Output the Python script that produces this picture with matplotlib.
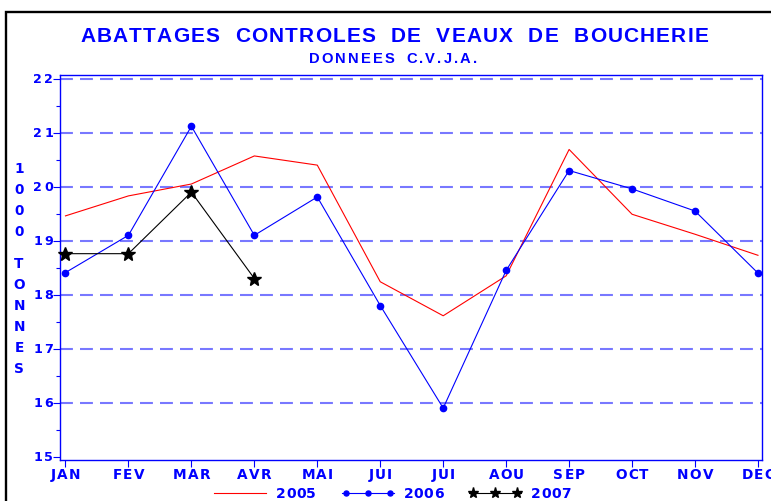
import matplotlib
matplotlib.use('Agg')
import matplotlib.pyplot as plt
from matplotlib.font_manager import FontProperties
from matplotlib.lines import Line2D
from matplotlib.patches import Rectangle

# data (1000 tonnes)
months = ['JAN', 'FEV', 'MAR', 'AVR', 'MAI', 'JUI', 'JUI', 'AOU', 'SEP', 'OCT', 'NOV', 'DEC']
y2005 = [19.46, 19.83, 20.05, 20.57, 20.40, 18.24, 17.61, 18.35, 20.69, 19.49, 19.12, 18.73]
y2006 = [18.41, 19.10, 21.12, 19.10, 19.81, 17.80, 15.90, 18.45, 20.30, 19.96, 19.55, 18.40]
y2007 = [18.76, 18.76, 19.90, 18.30]
yticks = [15, 16, 17, 18, 19, 20, 21, 22]
ylabel = '1000 TONNES'
title = 'ABATTAGES CONTROLES DE VEAUX DE BOUCHERIE'
subtitle = 'DONNEES C.V.J.A.'
legend_items = [('2005', 'red', None, 0), ('2006', 'blue', 'o', 4.5), ('2007', 'black', '*', 10)]

W, H = 771, 501
BLUE = '#0000ff'

fig = plt.figure(figsize=(W / 100, H / 100), dpi=100)
renderer = fig.canvas.get_renderer()
ax = fig.add_axes([60 / W, 1 - 460 / H, 702 / W, 385 / H])


def tracked(x, y, s, size, track=0.0, ha='center', width=None, space=None,
            family='DejaVu Sans', color=BLUE):
    # draw text char by char with extra letter spacing; x, y in px from top-left, y = cap centre
    prop = FontProperties(family=family, weight='bold', size=size)
    em = size * 100 / 72
    sp = space if space is not None else 0.3 * em
    ws = [sp if c == ' ' else renderer.get_text_width_height_descent(c, prop, ismath=False)[0] for c in s]
    if width is not None and len(s) > 1:
        track = (width - sum(ws)) / (len(s) - 1)
    total = sum(ws) + track * (len(s) - 1)
    if ha == 'center':
        x0 = x - total / 2
    elif ha == 'right':
        x0 = x - total
    else:
        x0 = x
    base = y + 0.362 * em
    for c, w in zip(s, ws):
        if c != ' ':
            fig.text(x0 / W, 1 - base / H, c, fontproperties=prop, color=color,
                     ha='left', va='baseline')
        x0 += w + track


# dashed grid
for v in yticks[1:]:
    ax.axhline(v, color='#7878ff', lw=1.5, linestyle=(0, (6.2, 3.4)), zorder=1)

x = list(range(len(months)))
ax.plot(x, y2005, color='red', lw=0.8, zorder=3, clip_on=False)
ax.plot(x, y2006, color='blue', lw=0.8, marker='o', ms=4.5, zorder=4, clip_on=False)
ax.plot(x[:len(y2007)], y2007, color='black', lw=0.8, marker='*', ms=10, zorder=5, clip_on=False)

ax.set_xlim(-0.087, 11.064)
ax.set_ylim(14.939, 22.069)
ax.set_xticks(x)
ax.set_yticks(yticks)
ax.set_yticks([v + 0.5 for v in yticks[:-1]], minor=True)
ax.tick_params(which='both', colors=BLUE, labelleft=False, labelbottom=False,
               direction='out', width=0.8)
ax.tick_params(which='major', length=5)
ax.tick_params(which='minor', length=3)
for sp in ax.spines.values():
    sp.set_color(BLUE)
    sp.set_linewidth(1.0)

# tick labels
xl, xr = ax.get_xlim()
yb, yt = ax.get_ylim()
for v in yticks:
    py = H - ax.transData.transform((xl, v))[1]
    tracked(53, py, str(v), 9.2, track=1.8, ha='right')
for i, m in enumerate(months):
    px = ax.transData.transform((i, yb))[0]
    tracked(px, 473.8, m, 9.8, track=1.2)

# titles
tracked(394, 34.7, title, 15, width=628, space=13, family='Liberation Sans')
tracked(393, 57.8, subtitle, 10.6, width=168, space=7, family='Liberation Sans')

# stacked y label
yy = 168
for c in ylabel:
    if c == ' ':
        yy += 10.6
        continue
    tracked(19, yy, c, 9.8)
    yy += 21.1

# legend
ly = 493.3
for k, (lab, col, mk, ms) in enumerate(legend_items):
    x0 = 214 + k * 127.5
    fig.add_artist(Line2D([x0 / W, (x0 + 52) / W], [1 - ly / H, 1 - ly / H],
                          transform=fig.transFigure, color=col, lw=0.8))
    if mk:
        fig.add_artist(Line2D([(x0 + d) / W for d in (4, 26, 48)], [1 - ly / H] * 3,
                              transform=fig.transFigure, color=col, ls='none',
                              marker=mk, ms=ms * 0.8))
    tracked(x0 + 62, ly, lab, 10, width=40, ha='left')

# outer frame
fig.add_artist(Rectangle((6 / W, -0.1), 1.2, 1.1 - 12 / H, transform=fig.transFigure,
                         fill=False, ec='black', lw=1.7, clip_on=False))

fig.savefig('out.png', dpi=100)
